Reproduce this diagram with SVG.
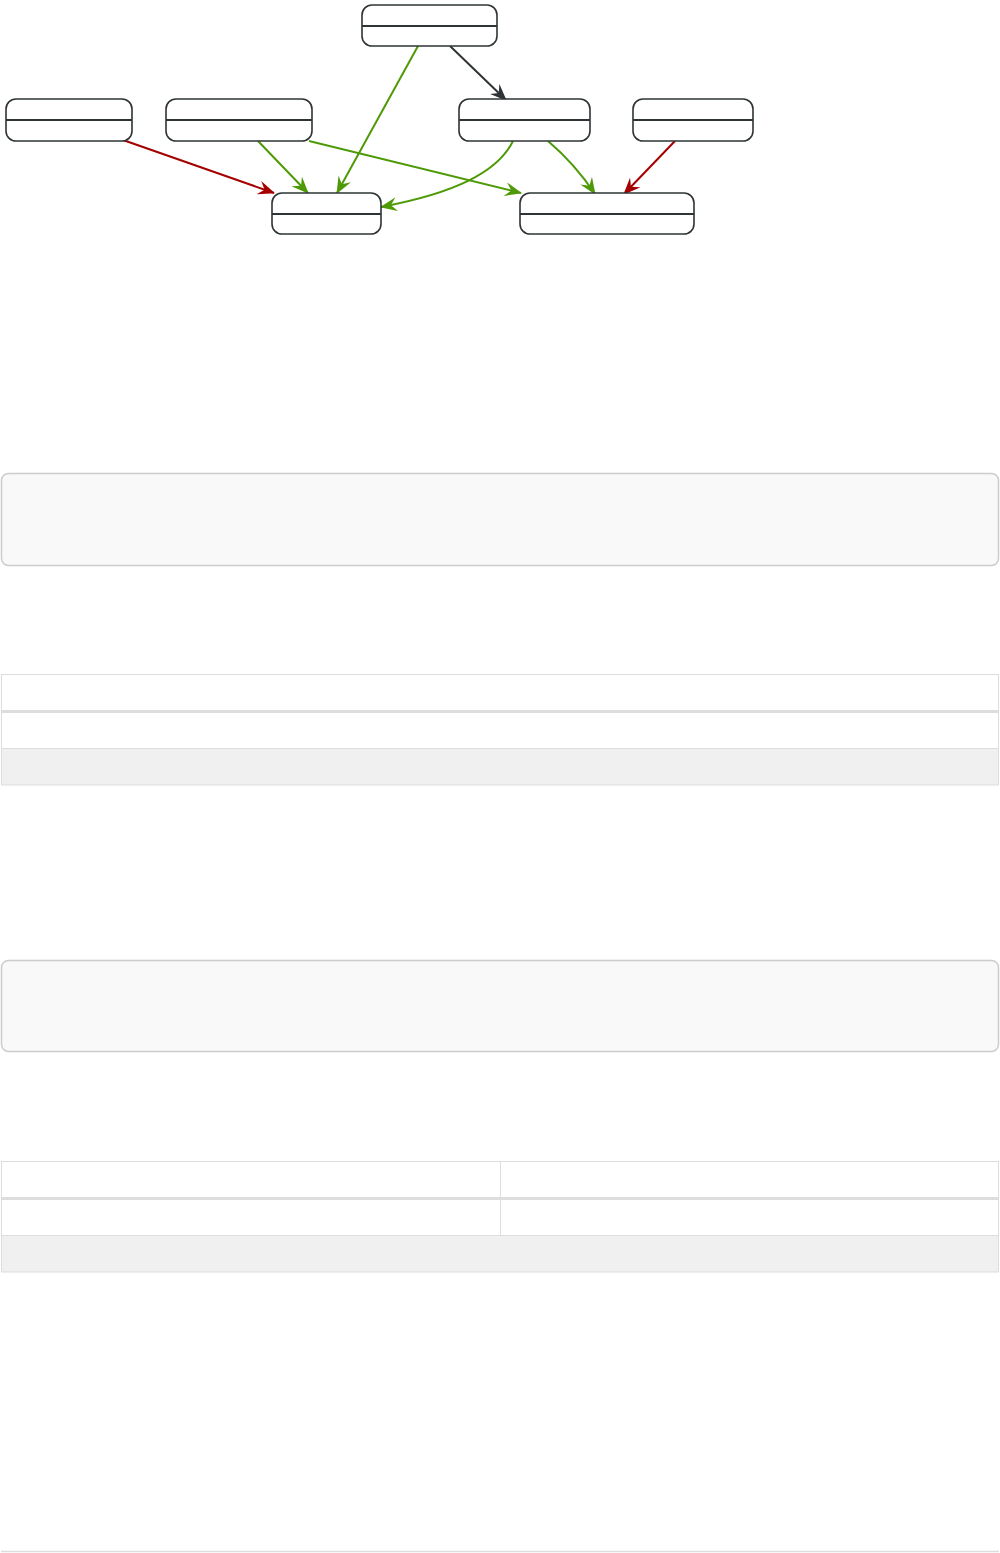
<svg xmlns="http://www.w3.org/2000/svg" width="1000" height="1553" viewBox="0 0 1000 1553">
<style>
.node rect{fill:#fff;stroke:#2e3436;stroke-width:1.6}
.node line{stroke:#2e3436;stroke-width:2}
.e{fill:none;stroke-width:2}
.g{stroke:#4e9a06}
.r{stroke:#a40000}
.k{stroke:#2e3436}
.panel{fill:#f9f9f9;stroke:#ccc;stroke-width:1.5}
.cell{fill:#fff;stroke:#ddd;stroke-width:1}
.foot{fill:#f0f0f0;stroke:#ddd;stroke-width:1}
</style>
<defs>
<marker id="ag" markerUnits="userSpaceOnUse" viewBox="0 0 17 14" refX="16" refY="7" markerWidth="17" markerHeight="14" orient="auto"><path d="M0,0 L17,7 L0,14 L6,7 z" fill="#4e9a06"/></marker>
<marker id="ar" markerUnits="userSpaceOnUse" viewBox="0 0 17 14" refX="16" refY="7" markerWidth="17" markerHeight="14" orient="auto"><path d="M0,0 L17,7 L0,14 L6,7 z" fill="#a40000"/></marker>
<marker id="ak" markerUnits="userSpaceOnUse" viewBox="0 0 17 14" refX="16" refY="7" markerWidth="17" markerHeight="14" orient="auto"><path d="M0,0 L17,7 L0,14 L6,7 z" fill="#2e3436"/></marker>
</defs>
<rect width="1000" height="1553" fill="#fff"/>
<g id="connectors">
<path class="e r" d="M123,140 L274,193" marker-end="url(#ar)"/>
<path class="e g" d="M258,141 L308,193" marker-end="url(#ag)"/>
<path class="e g" d="M309,141 L521,193" marker-end="url(#ag)"/>
<path class="e g" d="M418,46 L337,193" marker-end="url(#ag)"/>
<path class="e k" d="M450,46 L506,100" marker-end="url(#ak)"/>
<path class="e g" d="M513,141 C498,172 455,193 381,207" marker-end="url(#ag)"/>
<path class="e g" d="M548,141 Q575,164 595,194" marker-end="url(#ag)"/>
<path class="e r" d="M675,141 L624,194" marker-end="url(#ar)"/>
</g>
<g id="n-top" class="node"><rect x="362" y="5" width="135" height="41" rx="10"/><line x1="362" y1="26" x2="497" y2="26"/></g>
<g id="n-a" class="node"><rect x="6" y="99" width="126" height="42" rx="10"/><line x1="6" y1="120" x2="132" y2="120"/></g>
<g id="n-b" class="node"><rect x="166" y="99" width="146" height="42" rx="10"/><line x1="166" y1="120" x2="312" y2="120"/></g>
<g id="n-d" class="node"><rect x="459" y="99" width="131" height="42" rx="10"/><line x1="459" y1="120" x2="590" y2="120"/></g>
<g id="n-e" class="node"><rect x="633" y="99" width="120" height="42" rx="10"/><line x1="633" y1="120" x2="753" y2="120"/></g>
<g id="n-c" class="node"><rect x="272" y="193" width="109" height="41" rx="10"/><line x1="272" y1="214" x2="381" y2="214"/></g>
<g id="n-f" class="node"><rect x="520" y="193" width="174" height="41" rx="10"/><line x1="520" y1="214" x2="694" y2="214"/></g>
<g id="panel1"><rect class="panel" x="1.5" y="473.5" width="997" height="92" rx="7"/></g>
<g id="table1">
<rect class="cell" x="1.5" y="674.5" width="997" height="36"/>
<rect x="1" y="710" width="998" height="3" fill="#ddd"/>
<rect class="cell" x="1.5" y="712.5" width="997" height="36"/>
<rect class="foot" x="1.5" y="748.5" width="997" height="36.5"/>
</g>
<g id="panel2"><rect class="panel" x="1.5" y="960.5" width="997" height="91" rx="7"/></g>
<g id="table2">
<rect class="cell" x="1.5" y="1161.5" width="499" height="36"/>
<rect class="cell" x="500.5" y="1161.5" width="498" height="36"/>
<rect x="1" y="1197" width="998" height="3" fill="#ddd"/>
<rect class="cell" x="1.5" y="1199.5" width="499" height="36"/>
<rect class="cell" x="500.5" y="1199.5" width="498" height="36"/>
<rect class="foot" x="1.5" y="1235.5" width="997" height="36.5"/>
</g>
<line x1="1" y1="1551.5" x2="999" y2="1551.5" stroke="#ddd" stroke-width="1.5"/>
</svg>
